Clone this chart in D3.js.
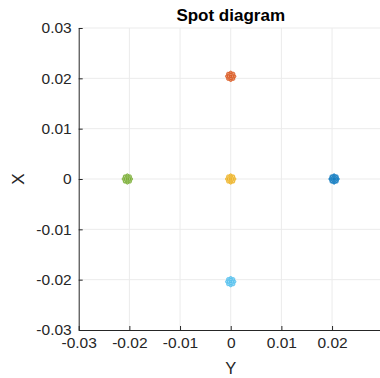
<!DOCTYPE html>
<html>
<head>
<meta charset="utf-8">
<script src="https://cdn.jsdelivr.net/npm/d3@7"></script>
<style>
  html, body { margin: 0; padding: 0; background: #fff; }
  svg { display: block; font-family: "Liberation Sans", Arial, Helvetica, sans-serif; }
</style>
</head>
<body>
<svg id="chart" width="380" height="378"></svg>
<script>
// Field points: chief-ray landing position of each field on the image plane
const fieldNames = ["On-axis", "+X field", "-Y field", "+Y field", "-X field"];
const fieldY = [0, 0, -0.0204, 0.0204, 0];
const fieldX = [0, 0.0204, 0, 0, -0.0204];
const fieldColors = ["#EDB120", "#D95319", "#77AC30", "#0072BD", "#4DBEEE"];

// Ray intercept offsets (relative to the field centre) traced through the pupil
const rayDY = [0, 0.0004, -0.0004, 0, 0, 0.0008, -0.0008, 0, 0, 0.00057, -0.00057, 0.00057, -0.00057];
const rayDX = [0, 0, 0, 0.0004, -0.0004, 0, 0, 0.0008, -0.0008, 0.00057, 0.00057, -0.00057, -0.00057];

// Axis ticks
const xTickValues = [-0.03, -0.02, -0.01, 0, 0.01, 0.02];
const xTickLabels = ["-0.03", "-0.02", "-0.01", "0", "0.01", "0.02"];
const yTickValues = [-0.03, -0.02, -0.01, 0, 0.01, 0.02, 0.03];
const yTickLabels = ["-0.03", "-0.02", "-0.01", "0", "0.01", "0.02", "0.03"];

const svg = d3.select("#chart");
const plotLeft = 78.7, plotTop = 28, plotBottom = 330, plotRight = 380;
const xMax = -0.03 + (plotRight - plotLeft) / 50.67 * 0.01;
const x = d3.scaleLinear().domain([-0.03, xMax]).range([plotLeft, plotRight]);
const y = d3.scaleLinear().domain([-0.03, 0.03]).range([plotBottom, plotTop]);

const axisColor = "#262626";
const fmtX = v => xTickLabels[xTickValues.findIndex(t => Math.abs(t - v) < 1e-9)];
const fmtY = v => yTickLabels[yTickValues.findIndex(t => Math.abs(t - v) < 1e-9)];

// Grid
const grid = svg.append("g");
grid.selectAll("line.gx").data(xTickValues.slice(1)).join("line")
  .attr("x1", d => x(d)).attr("x2", d => x(d))
  .attr("y1", plotTop).attr("y2", plotBottom)
  .attr("stroke", "#ebebeb").attr("stroke-width", 1);
grid.selectAll("line.gy").data(yTickValues.slice(1)).join("line")
  .attr("x1", plotLeft).attr("x2", plotRight)
  .attr("y1", d => y(d)).attr("y2", d => y(d))
  .attr("stroke", "#ebebeb").attr("stroke-width", 1);

// Spots
const rays = [];
fieldY.forEach((fy, i) => {
  rayDY.forEach((dy, k) => rays.push({ f: i, y: fy + dy, x: fieldX[i] + rayDX[k] }));
});
const spots = svg.append("g");
fieldY.forEach((fy, i) => {
  spots.append("circle")
    .attr("cx", x(fy)).attr("cy", y(fieldX[i])).attr("r", 4.6)
    .attr("fill", fieldColors[i]).attr("fill-opacity", 0.45)
    .attr("stroke", fieldColors[i]).attr("stroke-opacity", 0.6).attr("stroke-width", 1);
});
spots.selectAll("circle.ray").data(rays).join("circle")
  .attr("class", "ray")
  .attr("cx", d => x(d.y)).attr("cy", d => y(d.x)).attr("r", 1.2)
  .attr("fill", "none")
  .attr("stroke", d => fieldColors[d.f]).attr("stroke-width", 0.8);

// Axes (ticks point inward)
const xAxis = d3.axisBottom(x).tickValues(xTickValues).tickFormat(fmtX).tickSizeInner(-4).tickSizeOuter(0).tickPadding(6);
const yAxis = d3.axisLeft(y).tickValues(yTickValues).tickFormat(fmtY).tickSizeInner(-4).tickSizeOuter(0).tickPadding(7);

const gx = svg.append("g").attr("transform", `translate(0,${plotBottom})`).call(xAxis);
const gy = svg.append("g").attr("transform", `translate(${plotLeft},0)`).call(yAxis);
[gx, gy].forEach(g => {
  g.select(".domain").attr("stroke", axisColor).attr("stroke-width", 1);
  g.selectAll(".tick line").attr("stroke", axisColor);
  g.selectAll(".tick text").attr("fill", axisColor).attr("font-size", 15.5)
    .attr("font-family", "'Liberation Sans', Arial, Helvetica, sans-serif");
});
gx.selectAll(".tick text").attr("dy", "0.8em");

// Labels
svg.append("text").attr("x", 230.7).attr("y", 21)
  .attr("text-anchor", "middle").attr("font-size", 17).attr("font-weight", "bold")
  .attr("fill", "#000").text("Spot diagram");
svg.append("text").attr("x", 230.7).attr("y", 374)
  .attr("text-anchor", "middle").attr("font-size", 16.5).attr("fill", axisColor).text("Y");
svg.append("text")
  .attr("transform", `translate(24,${y(0)}) rotate(-90)`)
  .attr("text-anchor", "middle").attr("font-size", 17).attr("fill", axisColor).text("X");
</script>
</body>
</html>
